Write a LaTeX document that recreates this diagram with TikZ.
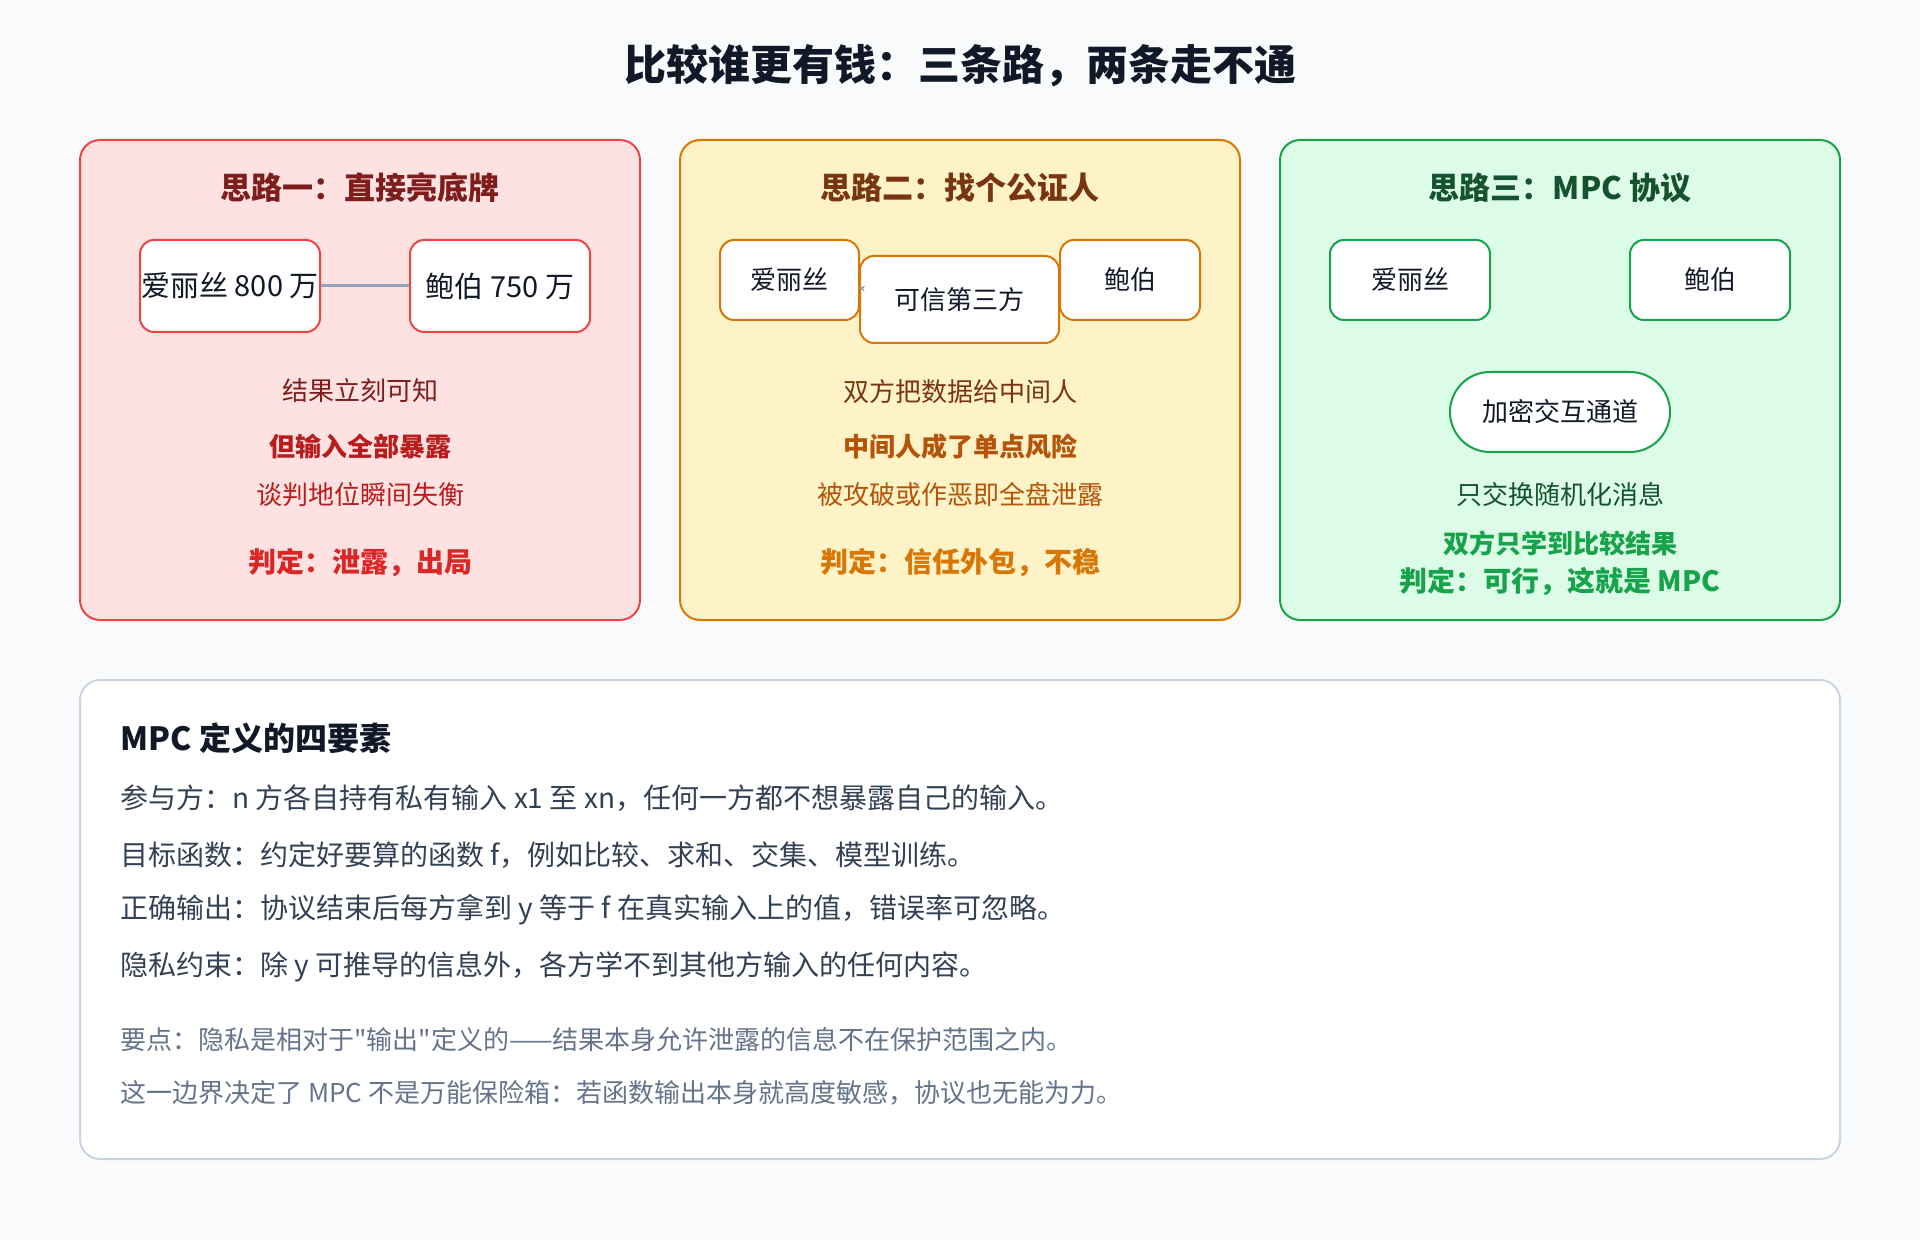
\documentclass[tikz,border=0pt]{standalone}
\usepackage{fontspec}
\setmainfont{Noto Sans CJK SC}[Ligatures=TeXOff]
\usepackage{tikz}
\usetikzlibrary{positioning, arrows.meta}
\definecolor{pagebg}{HTML}{F8FAFC}
\definecolor{ink}{HTML}{111827}
\definecolor{slate}{HTML}{334155}
\definecolor{mute}{HTML}{64748B}
\definecolor{rule}{HTML}{CBD5E1}
\definecolor{linkgray}{HTML}{94A3B8}
\definecolor{redfill}{HTML}{FEE2E2}
\definecolor{redline}{HTML}{EF4444}
\definecolor{reddark}{HTML}{7F1D1D}
\definecolor{redmid}{HTML}{B91C1C}
\definecolor{redhot}{HTML}{DC2626}
\definecolor{amberfill}{HTML}{FEF3C7}
\definecolor{amberline}{HTML}{D97706}
\definecolor{amberdark}{HTML}{78350F}
\definecolor{ambermid}{HTML}{B45309}
\definecolor{greenfill}{HTML}{DCFCE7}
\definecolor{greenline}{HTML}{16A34A}
\definecolor{greendark}{HTML}{14532D}
\tikzset{
  panel/.style={draw=#1, line width=1pt, rounded corners=10pt},
  headline/.style={font=\fontsize{21pt}{25pt}\selectfont\bfseries, text=ink, inner sep=0pt},
  cardtitle/.style={font=\fontsize{15.5pt}{19pt}\selectfont\bfseries, text=#1, inner sep=0pt},
  party/.style={draw=#1, fill=white, line width=1pt, rounded corners=7pt, inner sep=0pt,
    text=ink, font=\fontsize{13pt}{16pt}\selectfont},
  remark/.style={font=\fontsize{13pt}{16pt}\selectfont, text=#1, inner sep=0pt},
  alert/.style={font=\fontsize{13pt}{16pt}\selectfont\bfseries, text=#1, inner sep=0pt},
  verdict/.style={font=\fontsize{14pt}{17pt}\selectfont\bfseries, text=#1, inner sep=0pt},
  link/.style={draw=linkgray, line width=1.5pt},
  deftitle/.style={font=\fontsize{16pt}{19pt}\selectfont\bfseries, text=ink, inner sep=0pt, anchor=west},
  defline/.style={font=\fontsize{14pt}{17pt}\selectfont, text=slate, inner sep=0pt, anchor=west},
  defnote/.style={font=\fontsize{13pt}{16pt}\selectfont, text=mute, inner sep=0pt, anchor=west}
}

\begin{document}
\begin{tikzpicture}[x=0.5pt, y=-0.5pt]
    \fill[pagebg] (0,0) rectangle (1920,1240);
    \useasboundingbox (0,0) rectangle (1920,1240);
    \node[headline] (head) at (960,66) {比较谁更有钱：三条路，两条走不通};

    % idea one
    \draw[panel=redline, fill=redfill] (80,140) rectangle (640,620);
    \node[cardtitle=reddark] (title1) at (360,188) {思路一：直接亮底牌};
    \node[party=redline, minimum width=90pt, minimum height=46pt, font=\fontsize{14.5pt}{17pt}\selectfont] (alice1) at (230,286) {爱丽丝 800 万};
    \node[party=redline, minimum width=90pt, minimum height=46pt, font=\fontsize{14.5pt}{17pt}\selectfont] (bob1) at (500,286) {鲍伯 750 万};
    \draw[link] (alice1) -- (bob1);
    \node[remark=reddark] (fact1) at (360,391) {结果立刻可知};
    \node[alert=redmid] (risk1) at (360,447) {但输入全部暴露};
    \node[remark=redmid] (cost1) at (360,495) {谈判地位瞬间失衡};
    \node[verdict=redhot] (verdict1) at (360,563) {判定：泄露，出局};

    % idea two
    \draw[panel=amberline, fill=amberfill] (680,140) rectangle (1240,620);
    \node[cardtitle=amberdark] (title2) at (960,188) {思路二：找个公证人};
    \node[party=amberline, minimum width=69.5pt, minimum height=40pt] (alice2) at (789.5,280) {爱丽丝};
    \node[party=amberline, minimum width=99.5pt, minimum height=43.5pt] (ttp2) at (959.5,299.5) {可信第三方};
    \node[party=amberline, minimum width=70pt, minimum height=40pt] (bob2) at (1130,280) {鲍伯};
    \draw[link, line width=1pt, -{Stealth[length=3pt, width=3pt]}] (alice2) -- (ttp2);
    \node[remark=amberdark] (fact2) at (960,392) {双方把数据给中间人};
    \node[alert=ambermid] (risk2) at (960,447) {中间人成了单点风险};
    \node[remark=ambermid] (cost2) at (960,495) {被攻破或作恶即全盘泄露};
    \node[verdict=amberline] (verdict2) at (960,563) {判定：信任外包，不稳};

    % idea three
    \draw[panel=greenline, fill=greenfill] (1280,140) rectangle (1840,620);
    \node[cardtitle=greendark] (title3) at (1560,188) {思路三：MPC 协议};
    \node[party=greenline, minimum width=80pt, minimum height=40pt] (alice3) at (1410,280) {爱丽丝};
    \node[party=greenline, minimum width=80pt, minimum height=40pt] (bob3) at (1710,280) {鲍伯};
    \node[party=greenline, minimum width=110pt, minimum height=40pt, rounded corners=20pt] (chan3) at (1560,412) {加密交互通道};
    \node[remark=greendark] (fact3) at (1560,495) {只交换随机化消息};
    \node[alert=greenline] (gain3) at (1560,543) {双方只学到比较结果};
    \node[verdict=greenline] (verdict3) at (1560,582) {判定：可行，这就是 MPC};

    % definition sheet
    \draw[panel=rule, fill=white] (80,680) rectangle (1840,1159);
    \node[deftitle] (deft) at (120,738) {MPC 定义的四要素};
    \node[defline] (def1) at (120,798) {参与方：n 方各自持有私有输入 x1 至 xn，任何一方都不想暴露自己的输入。};
    \node[defline] (def2) at (120,855) {目标函数：约定好要算的函数 f，例如比较、求和、交集、模型训练。};
    \node[defline] (def3) at (120,910) {正确输出：协议结束后每方拿到 y 等于 f 在真实输入上的值，错误率可忽略。};
    \node[defline] (def4) at (120,967) {隐私约束：除 y 可推导的信息外，各方学不到其他方输入的任何内容。};
    \node[defnote] (note1) at (120,1040) {要点：隐私是相对于"输出"定义的——结果本身允许泄露的信息不在保护范围之内。};
    \node[defnote] (note2) at (120,1093) {这一边界决定了 MPC 不是万能保险箱：若函数输出本身就高度敏感，协议也无能为力。};
\end{tikzpicture}
\end{document}
